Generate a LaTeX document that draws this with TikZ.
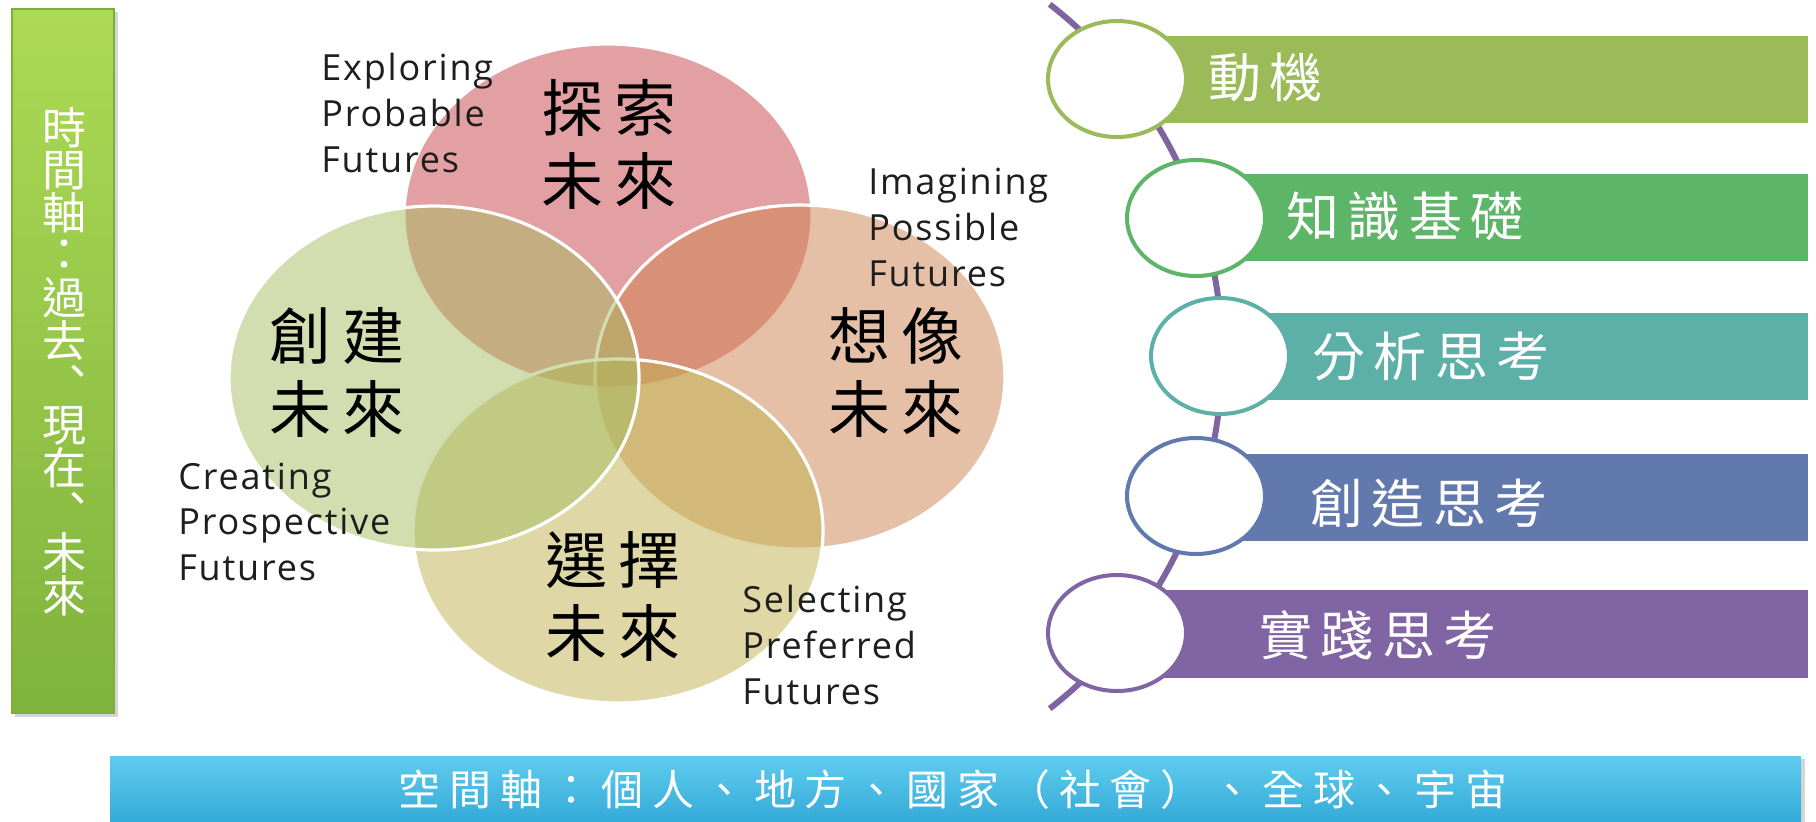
\documentclass[tikz,border=0pt]{standalone}
\usepackage{fontspec}
\usetikzlibrary{shapes.geometric}
\newfontfamily\cjk{Noto Sans CJK TC}
\newfontfamily\cjkV[LetterSpace=17]{Noto Sans CJK TC}
\newfontfamily\cjkB[LetterSpace=16]{Noto Sans CJK TC}
\newfontfamily\cjkS[LetterSpace=21]{Noto Sans CJK TC}
\newfontfamily\lat[LetterSpace=5]{Open Sans}
\definecolor{vred}{HTML}{C74147}
\definecolor{vorange}{HTML}{CD814D}
\definecolor{vyellow}{HTML}{BFB14D}
\definecolor{vgreen}{HTML}{A5BD61}
\definecolor{cA}{HTML}{9BBB59}
\definecolor{cB}{HTML}{5DB567}
\definecolor{cC}{HTML}{5DB0A8}
\definecolor{cD}{HTML}{6279AE}
\definecolor{cE}{HTML}{8164A4}
\definecolor{pur}{HTML}{8064A2}
\definecolor{lgTop}{HTML}{ACDA55}
\definecolor{lgBot}{HTML}{80B33D}
\definecolor{lgEdge}{HTML}{7DAE3A}
\definecolor{bbTop}{HTML}{60CCEE}
\definecolor{bbBot}{HTML}{2EA6D5}
\definecolor{lbltext}{HTML}{1E1E1E}
\begin{document}
\begin{tikzpicture}[x=0.5pt,y=-0.5pt,
  venntxt/.style={font=\cjkV\fontsize{31}{36.5}\selectfont, align=center, inner sep=0pt, text=black},
  lbl/.style={font=\lat\fontsize{18}{22}\selectfont, anchor=base west, inner sep=0pt, text=lbltext},
  bartxt/.style={font=\cjkB\fontsize{26.5}{30}\selectfont, anchor=west, inner sep=0pt, text=white},
  coltxt/.style={font=\cjk\fontsize{22}{22}\selectfont, inner sep=0pt, text=white},
  dot/.style={ellipse, draw, line width=2pt, fill=white, minimum width=69pt, minimum height=58pt, inner sep=0pt},
  vennline/.style={white, line width=1.6pt}
]
\useasboundingbox (0,0) rectangle (1816,821);

% ---- left time-axis bar
\fill[black, opacity=0.16] (15,12) rectangle (118,717);
\shade[top color=lgTop, bottom color=lgBot] (12,9) rectangle (114,713);
\draw[lgEdge, line width=0.8pt] (12,9) rectangle (114,713);
\foreach \c [count=\i from 0] in {時,間,軸,：,過,去,︑,現,在,︑,未,來}
  \node[coltxt] (col\i) at (64,{128+42.5*\i}) {\c};

% ---- bottom space-axis bar
\fill[black, opacity=0.16] (113,759) rectangle (1805,830);
\shade[top color=bbTop, bottom color=bbBot] (110,756) rectangle (1801,830);
\node[font=\cjkS\fontsize{21}{25}\selectfont, anchor=west, inner sep=0pt, text=white] (space) at (398,790) {空間軸：個人、地方、國家（社會）、全球、宇宙};

% ---- Venn ellipses (red, orange, yellow, green)
\fill[vred, opacity=0.5] (608,216) ellipse [x radius=204, y radius=172];
\draw[vennline] (608,216) ellipse [x radius=204, y radius=172];
\fill[vorange, opacity=0.5] (800,377) ellipse [x radius=205, y radius=172];
\draw[vennline] (800,377) ellipse [x radius=205, y radius=172];
\fill[vyellow, opacity=0.5] (618,531) ellipse [x radius=205, y radius=172];
\draw[vennline] (618,531) ellipse [x radius=205, y radius=172];
\fill[vgreen, opacity=0.5] (434,378) ellipse [x radius=205, y radius=172];
\draw[vennline] (434,378) ellipse [x radius=205, y radius=172];

\node[venntxt] (explore) at (609,144) {探索\\未來};
\node[venntxt] (create) at (337,372) {創建\\未來};
\node[venntxt] (imagine) at (896,372) {想像\\未來};
\node[venntxt] (select) at (613,596) {選擇\\未來};

\node[lbl] (ex1) at (321,80) {Exploring};
\node[lbl] (ex2) at (321,126) {Probable};
\node[lbl] (ex3) at (321,172) {Futures};
\node[lbl] (im1) at (868,194) {Imagining};
\node[lbl] (im2) at (868,240) {Possible};
\node[lbl] (im3) at (868,286) {Futures};
\node[lbl] (cr1) at (178,489) {Creating};
\node[lbl] (cr2) at (178,534.5) {Prospective};
\node[lbl] (cr3) at (178,580) {Futures};
\node[lbl] (se1) at (742,612) {Selecting};
\node[lbl] (se2) at (742,658) {Preferred};
\node[lbl] (se3) at (742,704) {Futures};

% ---- right: purple arc, bars, circles
\coordinate (arcTop) at (1049.7,4.3);
\draw[pur, line width=3pt] (arcTop) arc[start angle=-52.15, end angle=52.15, radius=446];

\fill[cA] (1117,35.6) rectangle (1808,123);
\fill[cB] (1196,174) rectangle (1808,261);
\fill[cC] (1220,313) rectangle (1808,400);
\fill[cD] (1196,454) rectangle (1808,541);
\fill[cE] (1117,590) rectangle (1808,678);

\node[dot, draw=cA] (d1) at (1117,79) {};
\node[dot, draw=cB] (d2) at (1196,218) {};
\node[dot, draw=cC] (d3) at (1220,356) {};
\node[dot, draw=cD] (d4) at (1196,496) {};
\node[dot, draw=cE] (d5) at (1117,633) {};

\node[bartxt] (b1) at (1208,77) {動機};
\node[bartxt] (b2) at (1286,216) {知識基礎};
\node[bartxt] (b3) at (1312,356) {分析思考};
\node[bartxt] (b4) at (1310,503) {創造思考};
\node[bartxt] (b5) at (1259,635) {實踐思考};
\end{tikzpicture}
\end{document}
